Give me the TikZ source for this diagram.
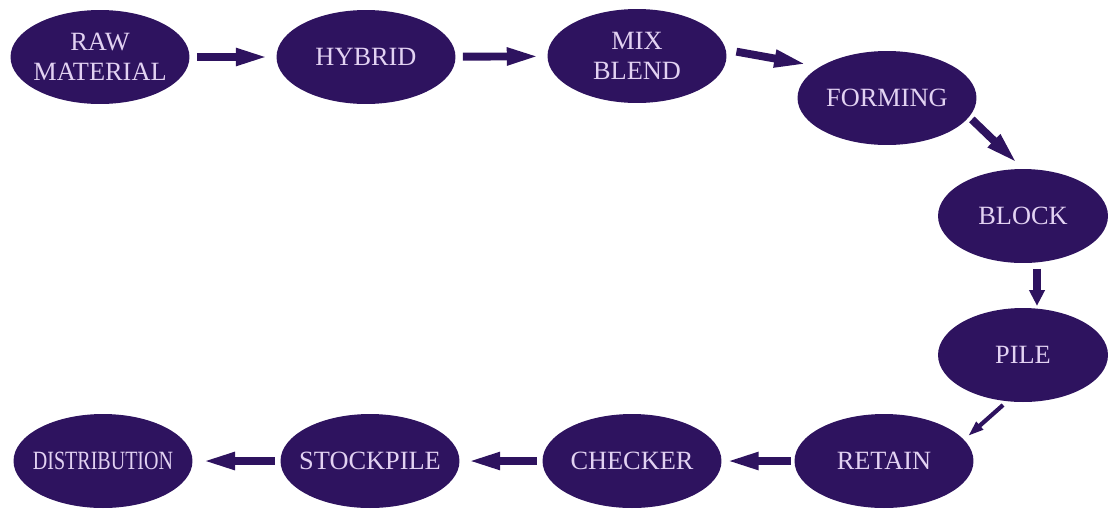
\documentclass[tikz,border=0pt]{standalone}
\usepackage{fontspec}
\setmainfont{Liberation Serif}
\usepackage{tikz}
\usetikzlibrary{shapes.geometric, arrows.meta}
\definecolor{stagepurple}{RGB}{46,19,95}
\definecolor{stagetext}{RGB}{226,210,242}
\tikzset{
    stage/.style={
        ellipse, fill=stagepurple, text=stagetext,
        minimum width=3.58cm, minimum height=1.88cm,
        inner xsep=-0.5cm, inner ysep=0pt, align=center,
        font=\fontsize{15}{17}\selectfont
    },
    narrow stage/.style={stage, minimum width=3.4cm},
    flow/.style={
        draw=stagepurple, line width=4.5pt,
        -{Triangle[length=19pt, width=9pt]},
        shorten <=4pt, shorten >=4pt
    },
    short flow/.style={
        draw=stagepurple, line width=4.5pt,
        -{Triangle[length=9pt, width=8.5pt]},
        shorten <=3pt, shorten >=1pt
    },
    thin flow/.style={
        draw=stagepurple, line width=2.4pt,
        -{Triangle[length=9pt, width=5.5pt]},
        shorten <=3pt, shorten >=3pt
    },
}

\begin{document}
\begin{tikzpicture}[x=0.02cm, y=-0.02cm]
\useasboundingbox (0,0) rectangle (1109,508);

\node[stage] (raw) at (100,57) {RAW\\MATERIAL};
\node[stage] (hybrid) at (366,57) {HYBRID};
\node[stage] (mix) at (637,56) {MIX\\BLEND};
\node[stage] (forming) at (887,98) {FORMING};
\node[narrow stage] (block) at (1023,216) {BLOCK};
\node[narrow stage] (pile) at (1023,355) {PILE};
\node[stage] (retain) at (884,461) {RETAIN};
\node[stage] (checker) at (632,461) {CHECKER};
\node[stage] (stockpile) at (370,461) {STOCKPILE};
\node[stage] (distribution) at (103,461) {\scalebox{0.76}[1]{DISTRIBUTION}};

\draw[flow] (raw) -- (hybrid);
\draw[flow] (hybrid) -- (mix);
\draw[flow, shorten <=6pt, shorten >=7pt] (mix.4) -- (forming.155);
\draw[flow, shorten <=2pt, shorten >=4pt] (forming.-13) -- (block.north);
\draw[short flow] ([xshift=0.28cm]block.south) -- ([xshift=0.28cm]pile.north);
\draw[thin flow] (pile.251) -- (retain.15);
\draw[flow, shorten <=2pt, shorten >=2pt] (retain) -- (checker);
\draw[flow, shorten <=3pt, shorten >=4pt] (checker) -- (stockpile);
\draw[flow, shorten <=3pt, shorten >=5pt] (stockpile) -- (distribution);
\end{tikzpicture}
\end{document}
